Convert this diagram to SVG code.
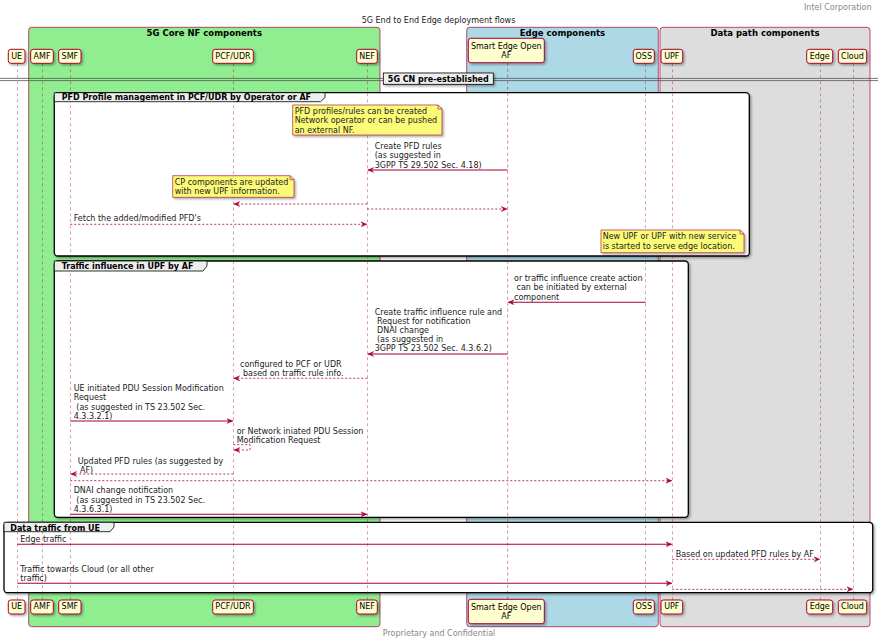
<svg xmlns="http://www.w3.org/2000/svg" width="878" height="638" viewBox="0 0 878 638" font-family="'DejaVu Sans', sans-serif">
  <style>
    .pbox { fill: #FEFECE; stroke: #A80036; stroke-width: 1; }
    .ptxt { font-size: 8px; text-anchor: middle; fill: #000; }
    .life { stroke: #A80036; stroke-width: 0.6; stroke-dasharray: 3,3; opacity: 0.8; }
    .msg { stroke: #A80036; stroke-width: 1.1; fill: none; }
    .dash { stroke-width: 0.8; stroke-dasharray: 2,2; }
    .mtxt { font-size: 8px; fill: #222; }
    .note { fill: #FBFB77; stroke: #A80036; stroke-width: 0.6; }
    .grp { fill: #FFFFFF; stroke: #000; stroke-width: 1.3; }
    .tab { fill: #EEEEEE; stroke: #000; stroke-width: 0.8; }
    .gtxt { font-size: 8px; font-weight: bold; fill: #000; }
    .boxttl { font-size: 8.5px; font-weight: bold; text-anchor: middle; fill: #000; }
    .outer { stroke: #A80036; stroke-width: 0.7; opacity: 1; }
    .gray { font-size: 8px; fill: #888; }
  </style>
  <defs>
    <filter id="shadow" x="-10%" y="-10%" width="130%" height="140%">
      <feDropShadow dx="1.5" dy="1.5" stdDeviation="0.8" flood-color="#000" flood-opacity="0.35"/>
    </filter>
    <marker id="ah" markerUnits="userSpaceOnUse" markerWidth="8" markerHeight="8" refX="6" refY="3" orient="auto" viewBox="0 0 8 8">
      <path d="M6,3 L0,0.4 L2.2,3 L0,5.6 Z" fill="#A80036" stroke="#A80036" stroke-width="0.4"/>
    </marker>
  </defs>

  <!-- header, title, footer -->
  <text class="gray" x="871.5" y="9.5" text-anchor="end">Intel Corporation</text>
  <text x="438.5" y="23" font-size="8px" text-anchor="middle" fill="#222">5G End to End Edge deployment flows</text>
  <text class="gray" x="439" y="635.5" text-anchor="middle">Proprietary and Confidential</text>

  <!-- participant boxes (grouping backgrounds) -->
  <g id="box-core">
    <rect class="outer" x="28.7" y="27.3" width="351.3" height="599.4" rx="3" fill="#90EE90"/>
    <text class="boxttl" x="204.3" y="35.6">5G Core NF components</text>
  </g>
  <g id="box-edge">
    <rect class="outer" x="466.7" y="27.3" width="191.6" height="599.4" rx="3" fill="#ADD8E6"/>
    <text class="boxttl" x="562.5" y="35.6">Edge components</text>
  </g>
  <g id="box-datapath">
    <rect class="outer" x="660" y="27.3" width="210" height="599.4" rx="3" fill="#DDDDDD"/>
    <text class="boxttl" x="765" y="35.6">Data path components</text>
  </g>

  <!-- group frames -->
  <g id="grp-pfd-frame">
    <rect class="grp" x="54.3" y="92.7" width="695" height="163.3" rx="3.5" filter="url(#shadow)"/>
  </g>
  <g id="grp-traffic-frame">
    <rect class="grp" x="54.3" y="261" width="634" height="256.3" rx="3.5" filter="url(#shadow)"/>
  </g>
  <g id="grp-data-frame">
    <rect class="grp" x="4" y="522.3" width="868.7" height="70.4" rx="3.5" filter="url(#shadow)"/>
  </g>

  <!-- lifelines -->
  <g id="lifelines">
    <line class="life" x1="17.3" y1="63.3" x2="17.3" y2="600"/>
    <line class="life" x1="42.3" y1="63.3" x2="42.3" y2="600"/>
    <line class="life" x1="70.3" y1="63.3" x2="70.3" y2="600"/>
    <line class="life" x1="233.3" y1="63.3" x2="233.3" y2="600"/>
    <line class="life" x1="367.3" y1="63.3" x2="367.3" y2="600"/>
    <line class="life" x1="507.7" y1="62.7" x2="507.7" y2="599.3"/>
    <line class="life" x1="645.7" y1="63.3" x2="645.7" y2="600"/>
    <line class="life" x1="672.3" y1="63.3" x2="672.3" y2="600"/>
    <line class="life" x1="820.3" y1="63.3" x2="820.3" y2="600"/>
    <line class="life" x1="853.3" y1="63.3" x2="853.3" y2="600"/>
  </g>

  <!-- participants (top) -->
  <g id="p-UE"><rect class="pbox" x="8.3" y="49.3" width="16.7" height="14" rx="2.5" filter="url(#shadow)"/><text class="ptxt" x="16.7" y="58.5">UE</text></g>
  <g id="p-AMF"><rect class="pbox" x="30.7" y="49.3" width="22.6" height="14" rx="2.5" filter="url(#shadow)"/><text class="ptxt" x="42" y="58.5">AMF</text></g>
  <g id="p-SMF"><rect class="pbox" x="58.7" y="49.3" width="22.3" height="14" rx="2.5" filter="url(#shadow)"/><text class="ptxt" x="69.9" y="58.5">SMF</text></g>
  <g id="p-PCF"><rect class="pbox" x="212.7" y="49.3" width="40.6" height="14" rx="2.5" filter="url(#shadow)"/><text class="ptxt" x="233" y="58.5">PCF/UDR</text></g>
  <g id="p-NEF"><rect class="pbox" x="356.7" y="49.3" width="20.6" height="14" rx="2.5" filter="url(#shadow)"/><text class="ptxt" x="367" y="58.5">NEF</text></g>
  <g id="p-AF"><rect class="pbox" x="468.3" y="38.3" width="76" height="24.4" rx="2.5" filter="url(#shadow)"/><text class="ptxt" x="506.3" y="48.8">Smart Edge Open</text><text class="ptxt" x="506.3" y="58.3">AF</text></g>
  <g id="p-OSS"><rect class="pbox" x="633.3" y="49.3" width="21" height="14" rx="2.5" filter="url(#shadow)"/><text class="ptxt" x="643.8" y="58.5">OSS</text></g>
  <g id="p-UPF"><rect class="pbox" x="661" y="49.3" width="21.7" height="14" rx="2.5" filter="url(#shadow)"/><text class="ptxt" x="671.8" y="58.5">UPF</text></g>
  <g id="p-Edge"><rect class="pbox" x="806.7" y="49.3" width="26" height="14" rx="2.5" filter="url(#shadow)"/><text class="ptxt" x="819.7" y="58.5">Edge</text></g>
  <g id="p-Cloud"><rect class="pbox" x="838.3" y="49.3" width="28.4" height="14" rx="2.5" filter="url(#shadow)"/><text class="ptxt" x="852.5" y="58.5">Cloud</text></g>

  <!-- participants (bottom) -->
  <g id="p-UE-bottom"><rect class="pbox" x="8.3" y="600" width="16.7" height="14" rx="2.5" filter="url(#shadow)"/><text class="ptxt" x="16.7" y="609.3">UE</text></g>
  <g id="p-AMF-bottom"><rect class="pbox" x="30.7" y="600" width="22.6" height="14" rx="2.5" filter="url(#shadow)"/><text class="ptxt" x="42" y="609.3">AMF</text></g>
  <g id="p-SMF-bottom"><rect class="pbox" x="58.7" y="600" width="22.3" height="14" rx="2.5" filter="url(#shadow)"/><text class="ptxt" x="69.9" y="609.3">SMF</text></g>
  <g id="p-PCF-bottom"><rect class="pbox" x="212.7" y="600" width="40.6" height="14" rx="2.5" filter="url(#shadow)"/><text class="ptxt" x="233" y="609.3">PCF/UDR</text></g>
  <g id="p-NEF-bottom"><rect class="pbox" x="356.7" y="600" width="20.6" height="14" rx="2.5" filter="url(#shadow)"/><text class="ptxt" x="367" y="609.3">NEF</text></g>
  <g id="p-AF-bottom"><rect class="pbox" x="468.3" y="599.3" width="76" height="24.4" rx="2.5" filter="url(#shadow)"/><text class="ptxt" x="506.3" y="609.7">Smart Edge Open</text><text class="ptxt" x="506.3" y="619.2">AF</text></g>
  <g id="p-OSS-bottom"><rect class="pbox" x="633.3" y="600" width="21" height="14" rx="2.5" filter="url(#shadow)"/><text class="ptxt" x="643.8" y="609.3">OSS</text></g>
  <g id="p-UPF-bottom"><rect class="pbox" x="661" y="600" width="21.7" height="14" rx="2.5" filter="url(#shadow)"/><text class="ptxt" x="671.8" y="609.3">UPF</text></g>
  <g id="p-Edge-bottom"><rect class="pbox" x="806.7" y="600" width="26" height="14" rx="2.5" filter="url(#shadow)"/><text class="ptxt" x="819.7" y="609.3">Edge</text></g>
  <g id="p-Cloud-bottom"><rect class="pbox" x="838.3" y="600" width="28.4" height="14" rx="2.5" filter="url(#shadow)"/><text class="ptxt" x="852.5" y="609.3">Cloud</text></g>

  <!-- divider -->
  <g id="divider-cn">
    <line x1="0" y1="78.4" x2="878" y2="78.4" stroke="#555" stroke-width="0.8"/>
    <line x1="0" y1="80.6" x2="878" y2="80.6" stroke="#555" stroke-width="0.8"/>
    <rect x="383.3" y="73" width="110" height="11.3" fill="#EEEEEE" stroke="#000" stroke-width="0.8" filter="url(#shadow)"/>
    <text class="gtxt" x="438.3" y="81.6" text-anchor="middle">5G CN pre-established</text>
  </g>

  <!-- group tabs -->
  <g id="grp-pfd-tab">
    <polygon class="tab" points="54.3,92.7 325,92.7 325,97.5 320.5,101.7 54.3,101.7"/>
    <text class="gtxt" x="61.7" y="99.6">PFD Profile management in PCF/UDR by Operator or AF</text>
  </g>
  <g id="grp-traffic-tab">
    <polygon class="tab" points="54.3,261 207,261 207,266 203,271 54.3,271"/>
    <text class="gtxt" x="61.7" y="269.4">Traffic influence in UPF by AF</text>
  </g>
  <g id="grp-data-tab">
    <polygon class="tab" points="4,522.3 114,522.3 114,527 110,531.7 4,531.7"/>
    <text class="gtxt" x="10.3" y="530.6">Data traffic from UE</text>
  </g>

  <!-- notes -->
  <g id="note-pfd">
    <path class="note" d="M292.7,105 H438 L442,109 V135 H292.7 Z" filter="url(#shadow)"/>
    <path d="M438,105 V109 H442" fill="none" stroke="#A80036" stroke-width="0.6"/>
    <text class="mtxt" x="294.7" y="114">PFD profiles/rules can be created</text>
    <text class="mtxt" x="294.7" y="123.3">Network operator or can be pushed</text>
    <text class="mtxt" x="294.7" y="132.6">an external NF.</text>
  </g>
  <g id="note-cp">
    <path class="note" d="M172.7,175.7 H290 L294,179.7 V197.3 H172.7 Z" filter="url(#shadow)"/>
    <path d="M290,175.7 V179.7 H294" fill="none" stroke="#A80036" stroke-width="0.6"/>
    <text class="mtxt" x="174.7" y="184.7">CP components are updated</text>
    <text class="mtxt" x="174.7" y="194">with new UPF information.</text>
  </g>
  <g id="note-upf">
    <path class="note" d="M601,230 H740 L744,234 V252.7 H601 Z" filter="url(#shadow)"/>
    <path d="M740,230 V234 H744" fill="none" stroke="#A80036" stroke-width="0.6"/>
    <text class="mtxt" x="602.7" y="239.3">New UPF or UPF with new service</text>
    <text class="mtxt" x="602.7" y="248.6">is started to serve edge location.</text>
  </g>

  <!-- connectors -->
  <g id="connectors">
    <!-- PFD profile management -->
    <line class="msg" x1="507.7" y1="170" x2="367.8" y2="170" marker-end="url(#ah)"/>
    <text class="mtxt" x="374.7" y="149">Create PFD rules</text>
    <text class="mtxt" x="374.7" y="158.3">(as suggested in</text>
    <text class="mtxt" x="374.7" y="167.6">3GPP TS 29.502 Sec. 4.18)</text>

    <line class="msg dash" x1="367.3" y1="204" x2="233.8" y2="204" marker-end="url(#ah)"/>
    <line class="msg dash" x1="367.3" y1="209" x2="507.2" y2="209" marker-end="url(#ah)"/>

    <line class="msg dash" x1="70.3" y1="224.3" x2="366.8" y2="224.3" marker-end="url(#ah)"/>
    <text class="mtxt" x="73.7" y="221">Fetch the added/modified PFD's</text>

    <!-- traffic influence -->
    <line class="msg" x1="645.7" y1="302.3" x2="508.2" y2="302.3" marker-end="url(#ah)"/>
    <text class="mtxt" x="514" y="280.7">or traffic influence create action</text>
    <text class="mtxt" x="516.5" y="290.1">can be initiated by external</text>
    <text class="mtxt" x="514" y="299.5">component</text>

    <line class="msg" x1="507.7" y1="354" x2="367.8" y2="354" marker-end="url(#ah)"/>
    <text class="mtxt" x="374.7" y="314.6">Create traffic influence rule and</text>
    <text class="mtxt" x="377" y="323.7">Request for notification</text>
    <text class="mtxt" x="377" y="332.9">DNAI change</text>
    <text class="mtxt" x="377" y="342.1">(as suggested in</text>
    <text class="mtxt" x="374.7" y="351.2">3GPP TS 23.502 Sec. 4.3.6.2)</text>

    <line class="msg dash" x1="367.3" y1="378.3" x2="233.8" y2="378.3" marker-end="url(#ah)"/>
    <text class="mtxt" x="240" y="366.6">configured to PCF or UDR</text>
    <text class="mtxt" x="243" y="375.7">based on traffic rule info.</text>

    <line class="msg" x1="70.3" y1="421" x2="232.8" y2="421" marker-end="url(#ah)"/>
    <text class="mtxt" x="73.7" y="391">UE initiated PDU Session Modification</text>
    <text class="mtxt" x="73.7" y="400.2">Request</text>
    <text class="mtxt" x="76.3" y="409.5">(as suggested in TS 23.502 Sec.</text>
    <text class="mtxt" x="73.7" y="418.7">4.3.3.2.1)</text>

    <polyline class="msg dash" points="233.3,444.6 250,444.6 250,450 234,450" marker-end="url(#ah)"/>
    <text class="mtxt" x="236.7" y="433.6">or Network iniated PDU Session</text>
    <text class="mtxt" x="236.7" y="442.9">Modification Request</text>

    <line class="msg dash" x1="233.3" y1="474" x2="70.8" y2="474" marker-end="url(#ah)"/>
    <text class="mtxt" x="77.7" y="463.6">Updated PFD rules (as suggested by</text>
    <text class="mtxt" x="80" y="472.7">AF)</text>

    <line class="msg dash" x1="70.3" y1="480.7" x2="671.8" y2="480.7" marker-end="url(#ah)"/>

    <line class="msg" x1="70.3" y1="514.3" x2="366.8" y2="514.3" marker-end="url(#ah)"/>
    <text class="mtxt" x="73.7" y="493.2">DNAI change notification</text>
    <text class="mtxt" x="76.3" y="502.5">(as suggested in TS 23.502 Sec.</text>
    <text class="mtxt" x="73.7" y="511.7">4.3.6.3.1)</text>

    <!-- data traffic -->
    <line class="msg" x1="17.3" y1="544.3" x2="671.8" y2="544.3" marker-end="url(#ah)"/>
    <text class="mtxt" x="20.3" y="542">Edge traffic</text>

    <line class="msg dash" x1="672.3" y1="559.3" x2="819.8" y2="559.3" marker-end="url(#ah)"/>
    <text class="mtxt" x="675.7" y="557">Based on updated PFD rules by AF</text>

    <line class="msg" x1="17.3" y1="583.3" x2="671.8" y2="583.3" marker-end="url(#ah)"/>
    <text class="mtxt" x="20.3" y="571.7">Traffic towards Cloud (or all other</text>
    <text class="mtxt" x="20.3" y="581">traffic)</text>

    <line class="msg dash" x1="672.3" y1="589.3" x2="852.8" y2="589.3" marker-end="url(#ah)"/>
  </g>
</svg>
